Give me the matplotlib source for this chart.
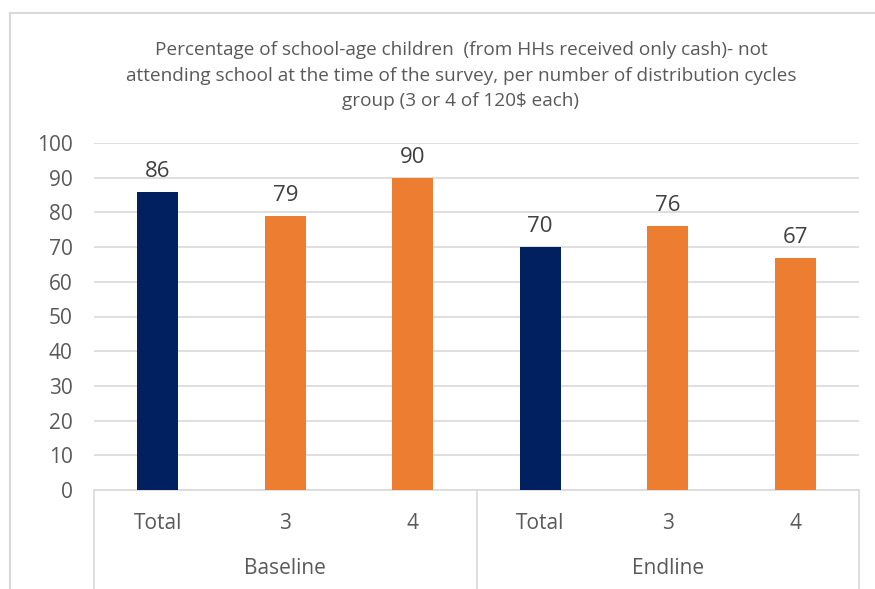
import matplotlib
matplotlib.use("Agg")
import matplotlib.pyplot as plt
from matplotlib.lines import Line2D

plt.rcParams['font.family'] = ['Open Sans', 'DejaVu Sans']

title_lines = ["Percentage of school-age children  (from HHs received only cash)- not",
               "attending school at the time of the survey, per number of distribution cycles",
               "group (3 or 4 of 120$ each)"]
groups = ["Baseline", "Endline"]
categories = ["Total", "3", "4", "Total", "3", "4"]
values = [86, 79, 90, 70, 76, 67]
bar_colors = ["#002060", "#ED7D31", "#ED7D31", "#002060", "#ED7D31", "#ED7D31"]
yticks = list(range(0, 101, 10))

W, H = 875, 589
fig = plt.figure(figsize=(W / 100, H / 100), dpi=100)
ax = fig.add_axes([94 / W, 1 - 490 / H, (859 - 94) / W, (490 - 143) / H])

x = list(range(len(categories)))
ax.bar(x, values, width=0.32, color=bar_colors, zorder=3)
ax.set_xlim(-0.5, len(categories) - 0.5)
ax.set_ylim(0, 100)
ax.set_yticks(yticks)
ax.set_yticklabels([str(t) for t in yticks], fontsize=15, color="#595959")
ax.tick_params(axis='y', length=0, pad=15.5)
ax.set_xticks([])
ax.yaxis.grid(True, color="#D9D9D9", linewidth=1.2, zorder=0)
for s in ["top", "right", "left"]:
    ax.spines[s].set_visible(False)
ax.spines["bottom"].set_color("#D9D9D9")
ax.spines["bottom"].set_linewidth(1.2)

for xi, v in zip(x, values):
    ax.annotate(str(v), (xi, v), xytext=(0, 10.8), textcoords="offset points",
                ha="center", va="baseline", fontsize=16, color="#404040")

trans = ax.get_xaxis_transform()
ax_h = 490 - 143
for xi, c in zip(x, categories):
    ax.text(xi, -39 / ax_h, c, transform=trans, ha="center", va="baseline",
            fontsize=15, color="#595959")
n_per = 3
for gi, g in enumerate(groups):
    center = gi * n_per + (n_per - 1) / 2
    ax.text(center, -84 / ax_h, g, transform=trans, ha="center", va="baseline",
            fontsize=15, color="#595959")
for b in [-0.5, 2.5, 5.5]:
    ax.add_line(Line2D([b, b], [0, -110 / ax_h], transform=trans, color="#D9D9D9",
                       linewidth=1.2, clip_on=False))

for line, yb in zip(title_lines, [55, 81, 106]):
    fig.text(461 / W, 1 - yb / H, line, ha="center", va="baseline", fontsize=13.7,
             color="#595959")

fig.add_artist(Line2D([10 / W, 10 / W], [0, 1 - 13 / H], transform=fig.transFigure,
                      color="#D9D9D9", linewidth=1.5))
fig.add_artist(Line2D([10 / W, 1], [1 - 13 / H, 1 - 13 / H], transform=fig.transFigure,
                      color="#D9D9D9", linewidth=1.5))

fig.savefig("out.png", dpi=100, facecolor="white")
